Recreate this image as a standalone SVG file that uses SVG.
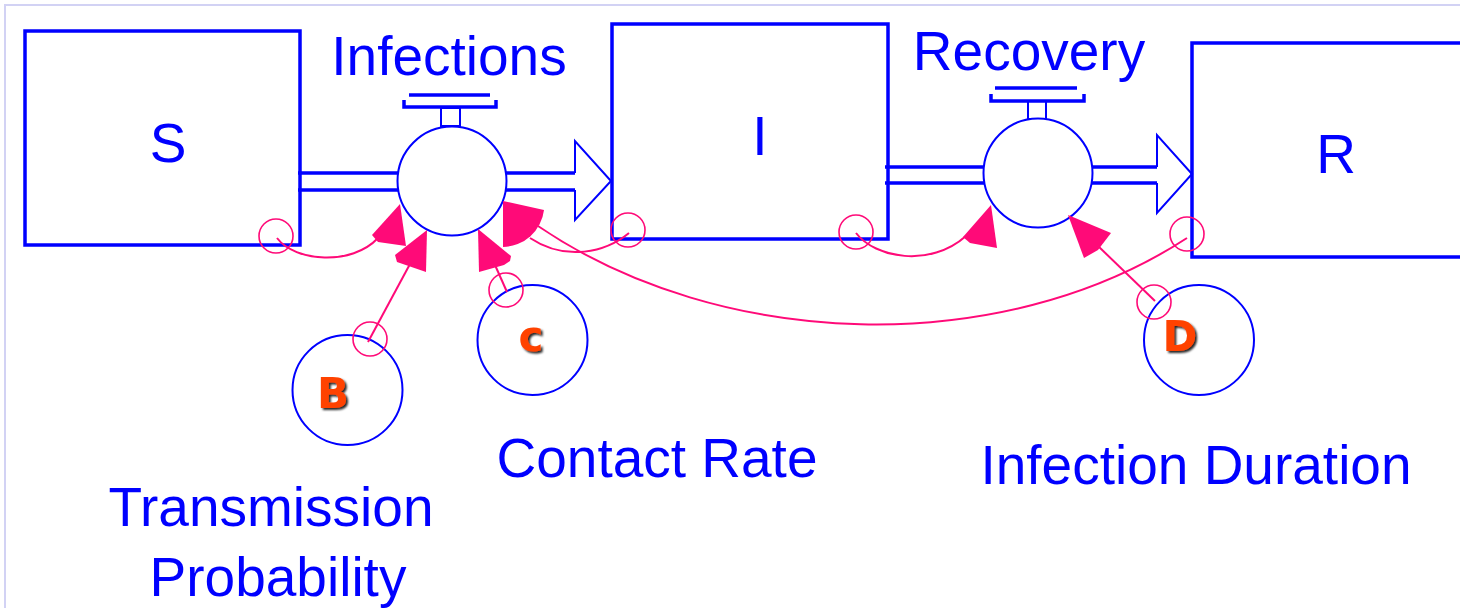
<svg xmlns="http://www.w3.org/2000/svg" width="1460" height="608" viewBox="0 0 1460 608">
  <style>
    .stock { fill: #fff; stroke: #0000ff; stroke-width: 3.5; }
    .pipe { fill: none; stroke: #0000ff; stroke-width: 3.5; }
    .thin { fill: none; stroke: #0000ff; stroke-width: 2; }
    .valve { fill: #fff; stroke: #0000ff; stroke-width: 2; }
    .aux { fill: none; stroke: #0000ff; stroke-width: 2; }
    .lbl { font-family: "Liberation Sans", Arial, sans-serif; font-size: 55px; fill: #0000ff; text-anchor: middle; }
    .sym { font-family: "DejaVu Sans", sans-serif; font-weight: bold; font-size: 42px; fill: #ff4300; text-anchor: middle; filter: url(#shadow); }
    .link { fill: none; stroke: #ff0a78; stroke-width: 2; }
    .tap { fill: none; stroke: #ff0a78; stroke-width: 1.6; }
    .head { fill: #ff0a78; stroke: none; }
  </style>
  <defs>
    <filter id="shadow" x="-30%" y="-30%" width="160%" height="160%">
      <feDropShadow dx="2" dy="2" stdDeviation="1.2" flood-color="#000" flood-opacity="0.85"/>
    </filter>
  </defs>

  <rect width="1460" height="608" fill="#fff"/>
  <!-- window frame -->
  <path d="M5,608 V5 H1460" fill="none" stroke="#d2d2f4" stroke-width="2"/>

  <!-- stocks -->
  <g id="stock-S">
    <rect class="stock" x="25" y="31" width="275" height="214"/>
    <text class="lbl" x="168" y="162">S</text>
  </g>
  <g id="stock-I">
    <rect class="stock" x="612" y="24" width="276" height="215"/>
    <text class="lbl" x="760" y="155">I</text>
  </g>
  <g id="stock-R">
    <rect class="stock" x="1192" y="43" width="290" height="214"/>
    <text class="lbl" x="1336" y="173">R</text>
  </g>

  <!-- flow: Infections -->
  <g id="flow-infections">
    <path class="pipe" d="M298,173 H398 M298,190 H398"/>
    <path class="pipe" d="M506,173 H575 M506,190 H575"/>
    <path class="thin" d="M575,173 V141 L611,181 L575,220 V190"/>
    <path class="pipe" d="M409,95 H490" stroke-width="2.5"/>
    <path class="pipe" d="M404,100 V107 H496 V100" stroke-width="2.5"/>
    <rect class="thin" x="441" y="108" width="19" height="18"/>
    <circle class="valve" cx="452" cy="181" r="54.5"/>
    <text class="lbl" x="449" y="75">Infections</text>
  </g>

  <!-- flow: Recovery -->
  <g id="flow-recovery">
    <path class="pipe" d="M885,167 H985 M885,183 H985"/>
    <path class="pipe" d="M1092,167 H1157 M1092,183 H1157"/>
    <path class="thin" d="M1157,167 V135 L1192,174 L1157,213 V183"/>
    <path class="pipe" d="M995,88 H1077" stroke-width="2.5"/>
    <path class="pipe" d="M991,94 V101 H1084 V94" stroke-width="2.5"/>
    <rect class="thin" x="1028" y="101" width="18" height="18"/>
    <circle class="valve" cx="1038" cy="173" r="54.5"/>
    <text class="lbl" x="1029" y="70">Recovery</text>
  </g>

  <!-- auxiliaries -->
  <g id="aux-transmission">
    <circle class="aux" cx="347.5" cy="390" r="55"/>
    <text class="sym" x="333" y="408">B</text>
    <text class="lbl" x="271" y="526">Transmission</text>
    <text class="lbl" x="278" y="596">Probability</text>
  </g>
  <g id="aux-contact">
    <circle class="aux" cx="532.5" cy="340" r="55"/>
    <text class="sym" x="531" y="351">c</text>
    <text class="lbl" x="657" y="477">Contact Rate</text>
  </g>
  <g id="aux-duration">
    <circle class="aux" cx="1199" cy="340" r="55"/>
    <text class="sym" x="1180" y="351">D</text>
    <text class="lbl" x="1196" y="484">Infection Duration</text>
  </g>

  <!-- information links -->
  <g id="connectors">
    <!-- S -> Infections -->
    <circle class="tap" cx="276" cy="236" r="17"/>
    <path class="link" d="M277,238 C295,262 352,266 378,238"/>
    <path class="head" d="M400,204 L372,235 L378,242 L406,246 Z"/>

    <!-- Transmission Probability -> Infections -->
    <circle class="tap" cx="370" cy="339" r="17"/>
    <path class="link" d="M368,342 L410,264"/>
    <path class="head" d="M427,230 L395,255 L397,262 L426,272 Z"/>

    <!-- Contact Rate -> Infections -->
    <circle class="tap" cx="506" cy="290" r="17"/>
    <path class="link" d="M507,292 L495,265"/>
    <path class="head" d="M478,229 L511,256 L510,261 L504,265 L479,272 Z"/>

    <!-- I -> Infections -->
    <circle class="tap" cx="628" cy="230" r="17"/>
    <path class="link" d="M629,233 C606,252 566,262 530,238"/>

    <!-- R -> Infections -->
    <circle class="tap" cx="1187" cy="234" r="17"/>
    <path class="link" d="M1187,238 C1000,360 720,350 538,226"/>
    <path class="head" d="M503,201 L544,210 A42,42 0 0 1 503,247 Z"/>

    <!-- I -> Recovery -->
    <circle class="tap" cx="856" cy="232" r="17"/>
    <path class="link" d="M856,233 C875,258 930,268 966,236"/>
    <path class="head" d="M991,205 L963,237 L970,243 L997,248 Z"/>

    <!-- Infection Duration -> Recovery -->
    <circle class="tap" cx="1154" cy="302" r="17"/>
    <path class="link" d="M1155,301 L1097,245"/>
    <path class="head" d="M1068,215 L1111,233 L1098,250 L1084,258 Z"/>
  </g>
</svg>
